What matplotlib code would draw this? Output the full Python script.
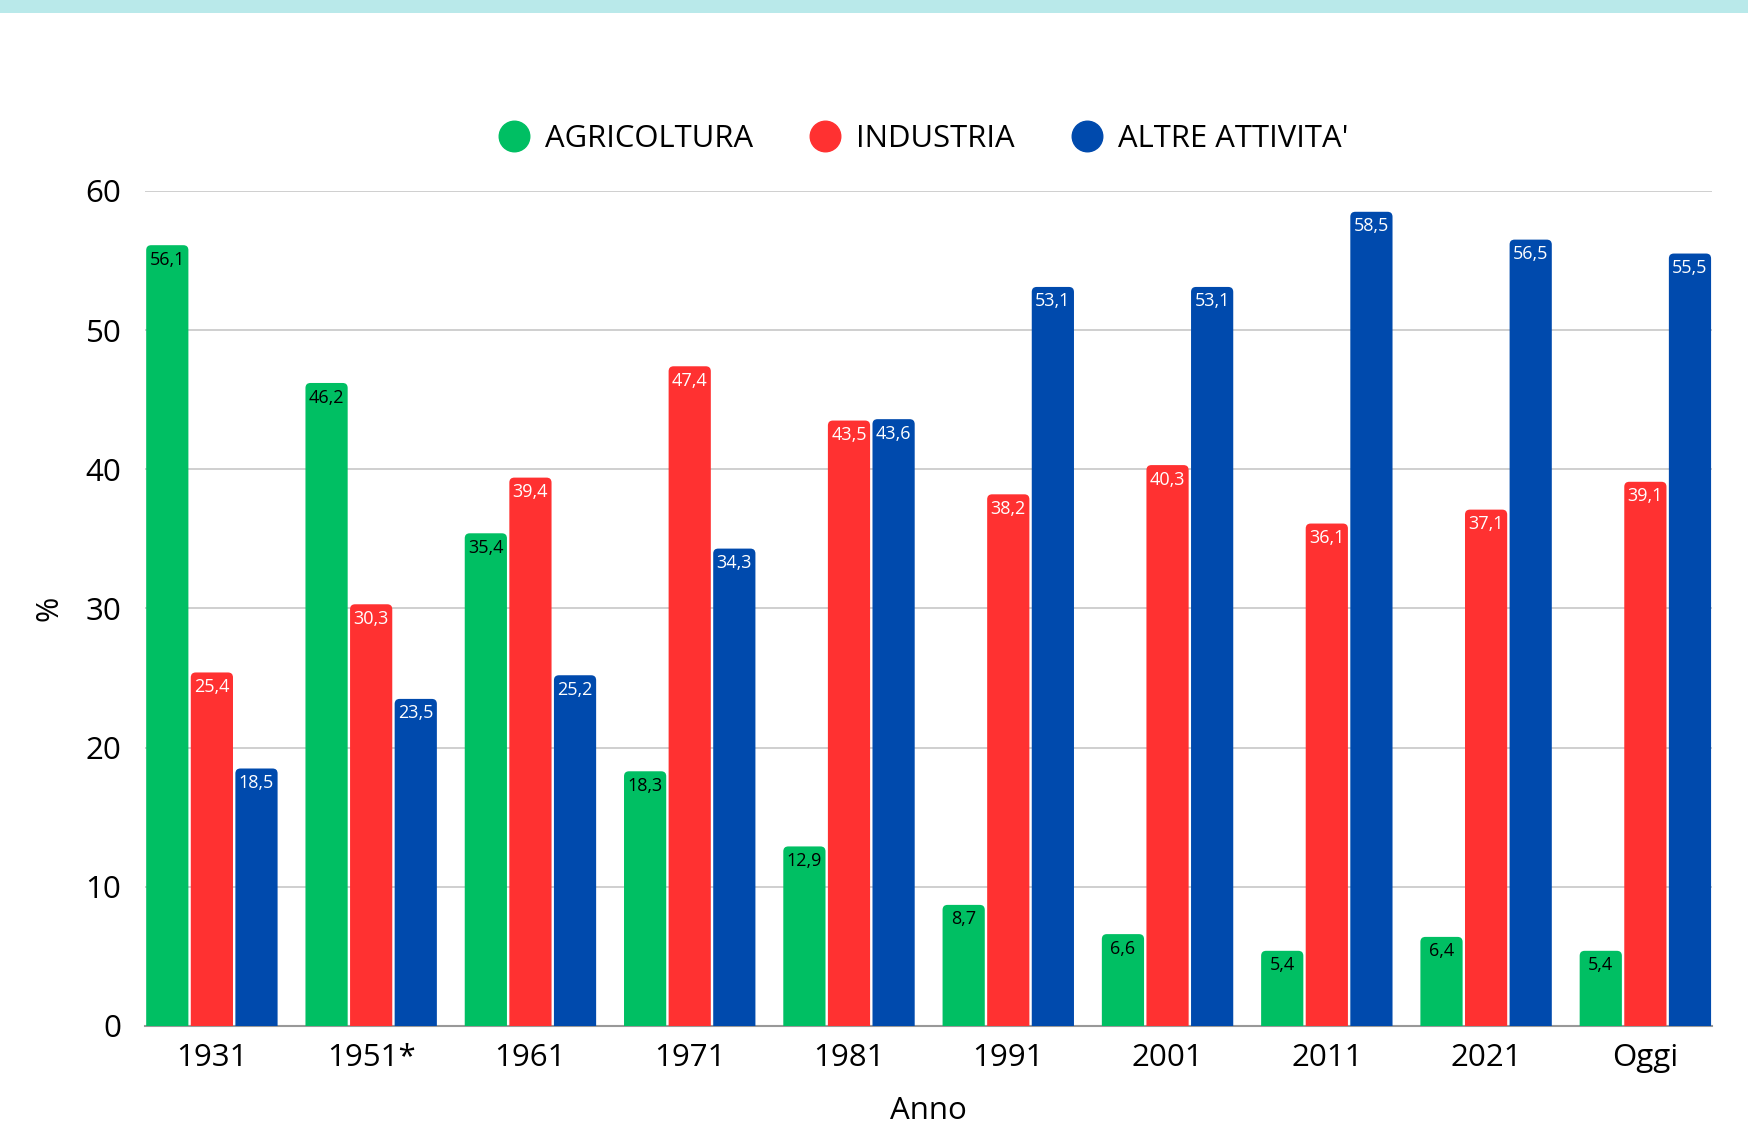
import numpy as np
import matplotlib
matplotlib.use("Agg")
import matplotlib.pyplot as plt
from matplotlib.patches import FancyBboxPatch, Rectangle
from matplotlib.lines import Line2D

plt.rcParams['font.family'] = ['Open Sans', 'DejaVu Sans']

anni = ['1931', '1951*', '1961', '1971', '1981', '1991', '2001', '2011', '2021', 'Oggi']
agricoltura = [56.1, 46.2, 35.4, 18.3, 12.9, 8.7, 6.6, 5.4, 6.4, 5.4]
industria = [25.4, 30.3, 39.4, 47.4, 43.5, 38.2, 40.3, 36.1, 37.1, 39.1]
altre = [18.5, 23.5, 25.2, 34.3, 43.6, 53.1, 53.1, 58.5, 56.5, 55.5]

serie = [
    ("AGRICOLTURA", agricoltura, '#00bf63', 'black'),
    ("INDUSTRIA", industria, '#ff3131', 'white'),
    ("ALTRE ATTIVITA'", altre, '#004aad', 'white'),
]

fig = plt.figure(figsize=(17.49, 11.23), dpi=100)
ax = fig.add_axes([0.0829, 0.0864, 0.979 - 0.0829, 0.830 - 0.0864])

# striscia azzurra in alto
fig.patches.append(Rectangle((0, 1 - 13 / 1123), 1, 13 / 1123, transform=fig.transFigure,
                             facecolor='#b9e9ea', edgecolor='none', zorder=0))

x = np.arange(len(anni))
slot = 0.28
bw = 0.265
ax.set_xlim(-1.5 * slot, len(anni) - 1 + 1.5 * slot)
ax.set_ylim(0, 60)

# scala in pixel per gli angoli arrotondati
fig.canvas.draw()
bbox = ax.get_window_extent()
px_x = (ax.get_xlim()[1] - ax.get_xlim()[0]) / bbox.width
px_y = 60 / bbox.height
r = 5 * px_x
aspect = px_y / px_x

for i, (nome, vals, col, tcol) in enumerate(serie):
    xs = x + (i - 1) * slot
    bars = ax.bar(xs, vals, width=bw, color=col, alpha=0)
    for rect, v in zip(bars, vals):
        p = FancyBboxPatch((rect.get_x(), -2), rect.get_width(), v + 2,
                           boxstyle=f"round,pad=0,rounding_size={r}",
                           mutation_aspect=aspect, facecolor=col, edgecolor='none',
                           zorder=3)
        ax.add_patch(p)
        ax.annotate(f"{v:.1f}".replace('.', ','), (rect.get_x() + rect.get_width() / 2, v),
                    xytext=(0, -4), textcoords='offset points', ha='center', va='top',
                    fontsize=13, color=tcol, zorder=4)

ax.set_yticks(np.arange(0, 61, 10))
ax.set_xticks(x)
ax.set_xticklabels(anni)
ax.tick_params(axis='both', length=0, labelsize=22.5, colors='black')
ax.tick_params(axis='y', pad=17)
ax.tick_params(axis='x', pad=12)
ax.grid(axis='y', color='#cccccc', linewidth=1.3, zorder=0)
ax.set_axisbelow(True)
for s in ['top', 'right', 'left']:
    ax.spines[s].set_visible(False)
ax.spines['bottom'].set_color('#999999')
ax.spines['bottom'].set_linewidth(1.5)

fig.text(50 / 1749, 1 - 608 / 1123, '%', rotation=90, fontsize=22, ha='center', va='center')
fig.text(0.5 * (145 + 1712) / 1749, 1 - 1111 / 1123, 'Anno', fontsize=22.5, ha='center', va='center')

handles = [Line2D([], [], marker='o', linestyle='none', markersize=22, color=c, label=n)
           for n, _, c, _ in serie]
fig.legend(handles=handles, loc='center', bbox_to_anchor=(0.527, 1 - 139 / 1123), ncol=3,
           frameon=False, fontsize=22.3, handletextpad=0.4, columnspacing=1.72, handlelength=1.2)

fig.savefig('out.png', dpi=100)
